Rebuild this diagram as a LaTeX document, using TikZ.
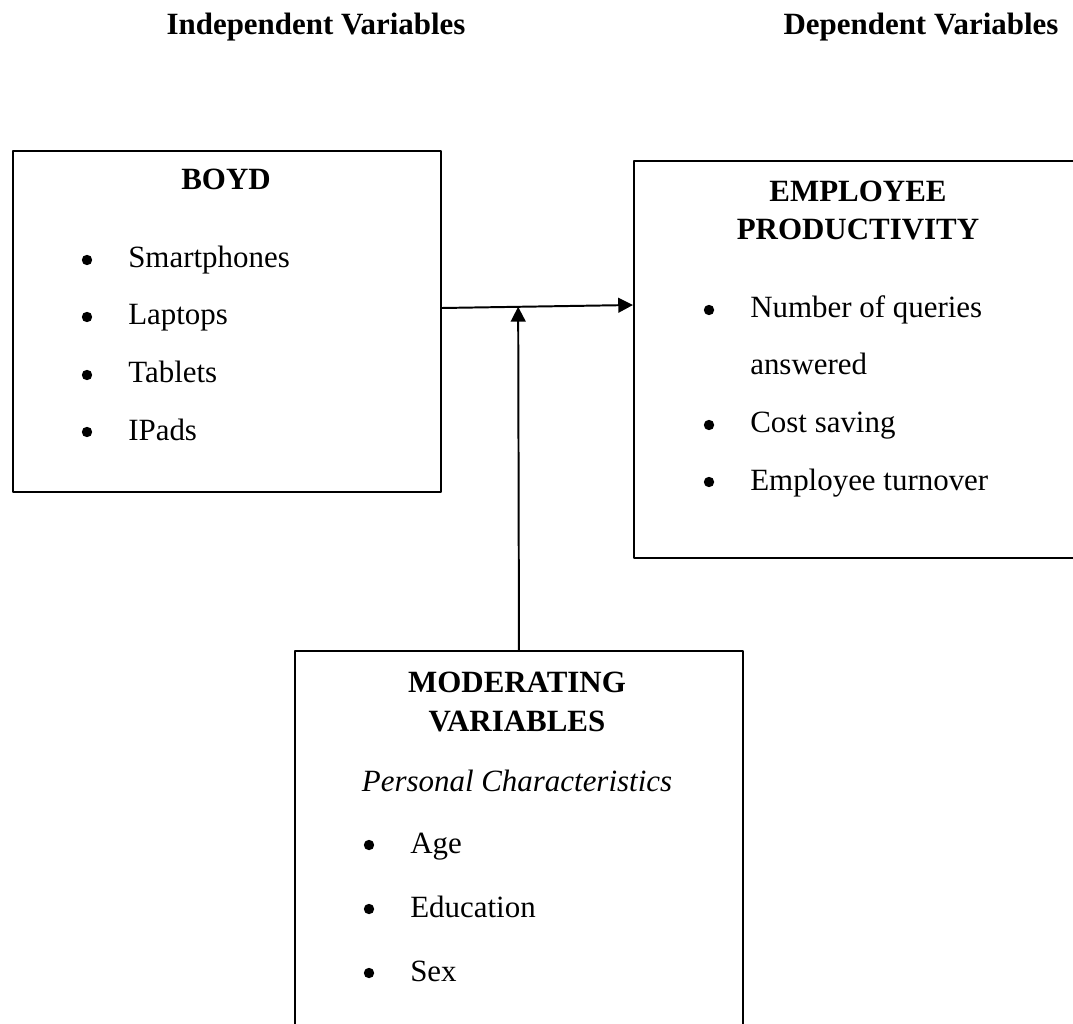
\documentclass[tikz,border=0pt]{standalone}
\usepackage{fontspec}
\setmainfont{Liberation Serif}
\usetikzlibrary{arrows.meta,calc}

\begin{document}
\begin{tikzpicture}[line cap=round,line join=round,>={Triangle[length=10.5pt,width=10.5pt]},x=0.025cm,y=-0.025cm,
  font=\fontsize{22}{26}\selectfont,
  lbl/.style={inner sep=0pt,anchor=base},
  itm/.style={inner sep=0pt,anchor=base west},
  dot/.style={circle,fill,inner sep=0pt,minimum size=0.26cm},
  box/.style={draw,line width=1.3pt,anchor=north west,inner sep=0pt}]

\useasboundingbox (0,0) rectangle (1073,1024);
\clip (0,0) rectangle (1073,1024);

\node[lbl] (hind) at (316,35) {\textbf{Independent Variables}};
\node[lbl] (hdep) at (921,35) {\textbf{Dependent Variables}};

\node[box,minimum width=10.7cm,minimum height=8.525cm] (boyd) at (12,150) {};
\node[box,minimum width=11.25cm,minimum height=9.925cm] (prod) at (633,160) {};
\node[box,minimum width=11.2cm,minimum height=10cm] (mod) at (294,650) {};

% BOYD
\node[lbl] (boydtitle) at (226,190) {\textbf{BOYD}};
\node[dot] (bb1) at (87,260) {};
\node[itm] (bi1) at (128,268) {Smartphones};
\node[dot] (bb2) at (87,317) {};
\node[itm] (bi2) at (128,325) {Laptops};
\node[dot] (bb3) at (87,375) {};
\node[itm] (bi3) at (128,383) {Tablets};
\node[dot] (bb4) at (87,432) {};
\node[itm] (bi4) at (128,440) {IPads};

% productivity
\node[lbl] (prodtitle1) at (858,202) {\textbf{EMPLOYEE}};
\node[lbl] (prodtitle2) at (858,240) {\textbf{PRODUCTIVITY}};
\node[dot] (pb1) at (709,310) {};
\node[itm] (pi1) at (750,318) {Number of queries};
\node[itm] (pi1b) at (750,375) {answered};
\node[dot] (pb2) at (709,425) {};
\node[itm] (pi2) at (750,433) {Cost saving};
\node[dot] (pb3) at (709,482) {};
\node[itm] (pi3) at (750,490) {Employee turnover};

% moderating
\node[lbl] (modtitle1) at (517,692) {\textbf{MODERATING}};
\node[lbl] (modtitle2) at (517,731) {\textbf{VARIABLES}};
\node[lbl] (modsub) at (517,791) {\textit{Personal Characteristics}};
\node[dot] (mb1) at (369,845) {};
\node[itm] (mi1) at (410,853) {Age};
\node[dot] (mb2) at (369,909) {};
\node[itm] (mi2) at (410,917) {Education};
\node[dot] (mb3) at (369,973) {};
\node[itm] (mi3) at (410,981) {Sex};

\coordinate (out) at (boyd.east |- 0,308);
\coordinate (in) at (prod.west |- 0,305);
\coordinate (join) at ($(out)!0.399!(in)$);
\draw[->,line width=1.4pt] (out) -- (in);
\draw[->,line width=1.4pt] (mod.north) -- (join);
\end{tikzpicture}
\end{document}
